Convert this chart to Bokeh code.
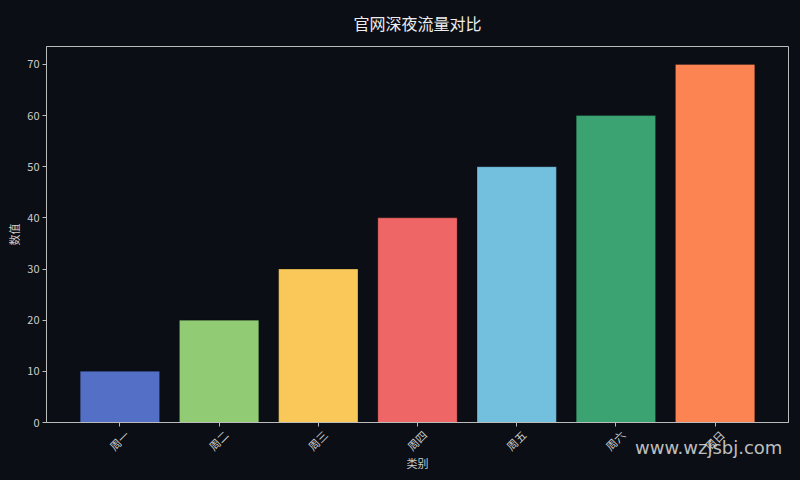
from bokeh.plotting import figure
from bokeh.models import ColumnDataSource, Range1d, FixedTicker, LinearAxis
from bokeh.embed import file_html
from bokeh.resources import INLINE
from math import pi

categories = ["周一", "周二", "周三", "周四", "周五", "周六", "周日"]
values = [10, 20, 30, 40, 50, 60, 70]
colors = ["#5470c6", "#91cc75", "#fac858", "#ee6666", "#73c0de", "#3ba272", "#fc8452"]
y_ticks = [0, 10, 20, 30, 40, 50, 60, 70]
title_text = "官网深夜流量对比"
x_label = "类别"
y_label = "数值"
watermark = "www.wzjsbj.com"

BG = "#0b0e14"
FG = "#cccccc"
AX = "#bbbbbb"
CJK = "Noto Sans CJK SC"
PAD = 0.74          # matplotlib-like margin around the bars
LABEL_SHIFT = 0.07  # centres the rotated tick labels under their ticks

idx = list(range(len(categories)))
src = ColumnDataSource(dict(x=idx, top=values, color=colors, cat=categories))

p = figure(
    frame_width=742, frame_height=376,
    min_border_left=46, min_border_right=12, min_border_top=46, min_border_bottom=58,
    x_range=Range1d(-PAD, len(categories) - 1 + PAD),
    y_range=Range1d(0, 73.5),
    output_backend="svg", toolbar_location=None,
    background_fill_color=BG, border_fill_color=BG,
    title=title_text,
)
p.vbar(x="x", top="top", width=0.8, bottom=0, source=src,
       fill_color="color", line_color="#000000", line_alpha=0.25, line_width=1)

p.grid.visible = False
p.outline_line_color = AX
p.outline_line_width = 1

p.title.align = "center"
p.title.vertical_align = "top"
p.title.text_font = CJK
p.title.text_font_size = "16px"
p.title.text_font_style = "normal"
p.title.text_color = "#eeeeee"
p.title.standoff = 20

# primary x axis: line and ticks only
xa = p.xaxis[0]
xa.ticker = FixedTicker(ticks=idx)
xa.major_label_overrides = {i: "" for i in idx}
xa.major_label_text_font_size = "1px"
xa.major_label_standoff = 0

# second axis below: rotated category labels and the axis name
p.extra_x_ranges["labels"] = Range1d(-PAD - LABEL_SHIFT, len(categories) - 1 + PAD - LABEL_SHIFT)
xb = LinearAxis(x_range_name="labels", ticker=FixedTicker(ticks=idx),
                major_label_overrides={i: c for i, c in zip(idx, categories)},
                major_label_orientation=pi / 4, axis_label=x_label)
xb.axis_line_color = None
xb.major_tick_line_color = None
xb.minor_tick_line_color = None
xb.major_tick_out = 0
xb.major_tick_in = 0
xb.major_label_standoff = 6
xb.axis_label_standoff = -7
p.add_layout(xb, "below")

p.yaxis.ticker = FixedTicker(ticks=y_ticks)
p.yaxis.axis_label = y_label
p.yaxis.axis_label_standoff = 2

for ax in (xa, xb, p.yaxis[0]):
    if ax is not xb:
        ax.axis_line_color = AX
        ax.major_tick_line_color = AX
        ax.major_tick_out = 4
        ax.major_tick_in = 0
        ax.minor_tick_line_color = None
    ax.major_label_text_color = FG
    ax.major_label_text_font = CJK
    if ax is not xa:
        ax.major_label_text_font_size = "11px"
    ax.axis_label_text_color = FG
    ax.axis_label_text_font = CJK
    ax.axis_label_text_font_size = "11px"
    ax.axis_label_text_font_style = "normal"
p.yaxis.major_label_standoff = 3

html = file_html(p, INLINE, title="chart")
style = "<style>html, body {background:%s !important;}</style>" % BG
mark = ('<div style="position:absolute;left:635px;top:437px;z-index:10;'
        'font-family:\'DejaVu Sans\';font-size:18px;line-height:22px;'
        'color:#dddddd;opacity:0.85;white-space:nowrap;">%s</div>' % watermark)
html = html.replace("</head>", style + "</head>", 1)
html = html.replace("</body>", mark + "</body>", 1)
open("out.html", "w").write(html)
